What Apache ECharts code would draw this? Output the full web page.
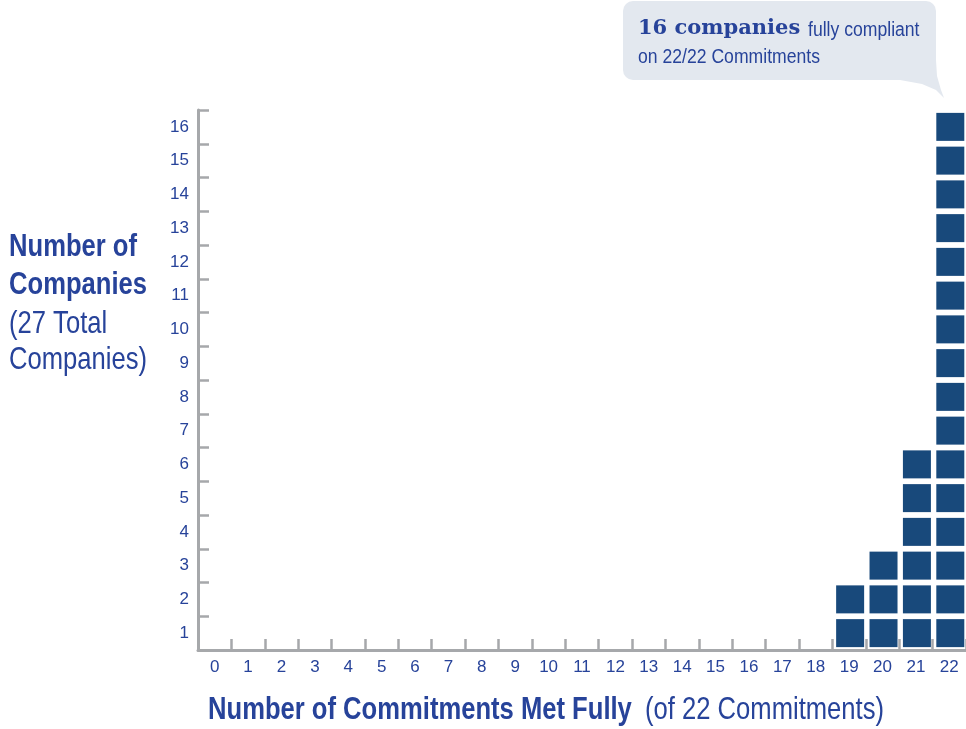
<!DOCTYPE html>
<html>
<head>
<meta charset="utf-8">
<script src="https://cdn.jsdelivr.net/npm/echarts@6/dist/echarts.min.js"></script>
<style>
  html, body { margin: 0; padding: 0; background: #fff; }
  #chart { width: 966px; height: 729px; }
</style>
</head>
<body>
<div id="chart"></div>
<script>
const commitments = ['0', '1', '2', '3', '4', '5', '6', '7', '8', '9', '10', '11',
  '12', '13', '14', '15', '16', '17', '18', '19', '20', '21', '22']
const companyTicks = ['1', '2', '3', '4', '5', '6', '7', '8', '9', '10', '11', '12',
  '13', '14', '15', '16']
const companyCounts = [0, 0, 0, 0, 0, 0, 0, 0, 0, 0, 0, 0, 0, 0, 0, 0, 0, 0, 0, 2, 3, 6, 16]

const sans = "'Liberation Sans', Arial, sans-serif"
const textBlue = '#27439a'
const boxBlue = '#18497b'
const axisGrey = '#a6a8ab'
const bubble = '#e3e8ef'

// one square per company, stacked in its column
const squares = []
companyCounts.forEach((n, i) => {
  for (let k = 0; k < n; k++) squares.push([i, k])
})

// condensed look: regular font squeezed horizontally
function label (x, y, text, size, bold, squeeze) {
  return {
    type: 'text',
    x: x,
    y: y,
    scaleX: squeeze,
    style: {
      text: text,
      fontFamily: sans,
      fontWeight: bold ? 'bold' : 'normal',
      fontSize: size,
      fill: textBlue,
      textVerticalAlign: 'middle'
    }
  }
}

const chart = echarts.init(document.getElementById('chart'))

const option = {
  backgroundColor: '#ffffff',
  animation: false,
  grid: {
    left: 198,
    top: 110,
    width: 771,
    bottom: 79
  },
  xAxis: {
    type: 'category',
    data: commitments,
    boundaryGap: true,
    axisLine: { show: true, lineStyle: { color: axisGrey, width: 3 } },
    axisTick: { show: true, inside: true, length: 11, lineStyle: { color: axisGrey, width: 2.5 } },
    axisLabel: { interval: 0, margin: 9, color: textBlue, fontFamily: sans, fontSize: 17 },
    splitLine: { show: false }
  },
  yAxis: {
    type: 'category',
    data: companyTicks,
    boundaryGap: true,
    axisLine: { show: true, lineStyle: { color: axisGrey, width: 3 } },
    axisTick: { show: true, inside: true, length: 11, lineStyle: { color: axisGrey, width: 2.5 } },
    axisLabel: { interval: 0, margin: 9, color: textBlue, fontFamily: sans, fontSize: 17 },
    splitLine: { show: false }
  },
  series: [{
    type: 'scatter',
    symbol: 'rect',
    symbolSize: [28, 28],
    symbolOffset: [1, 0],
    itemStyle: { color: boxBlue, opacity: 1 },
    data: squares
  }],
  graphic: [
    // speech bubble
    {
      type: 'rect',
      shape: { x: 623, y: 1, width: 313, height: 79, r: 10 },
      style: { fill: bubble }
    },
    {
      type: 'polygon',
      shape: { points: [[900, 80], [922, 84], [936, 90], [944, 98], [941, 90], [937, 76], [936, 60]] },
      style: { fill: bubble }
    },
    {
      type: 'text',
      x: 638,
      y: 29,
      style: {
        text: '16 companies',
        fontFamily: "'DejaVu Serif', serif",
        fontWeight: 'bold',
        fontSize: 21,
        fill: textBlue,
        textVerticalAlign: 'middle'
      }
    },
    label(808, 30, 'fully compliant', 20, false, 0.88),
    label(638, 57, 'on 22/22 Commitments', 20, false, 0.88),
    // left title
    label(9, 247, 'Number of', 32, true, 0.8),
    label(9, 285, 'Companies', 32, true, 0.8),
    label(9, 324, '(27 Total', 32, false, 0.8),
    label(9, 360, 'Companies)', 32, false, 0.8),
    // bottom title
    label(208, 710, 'Number of Commitments Met Fully', 32, true, 0.8),
    label(645, 710, '(of 22 Commitments)', 32, false, 0.8)
  ]
}

chart.setOption(option)
</script>
</body>
</html>
